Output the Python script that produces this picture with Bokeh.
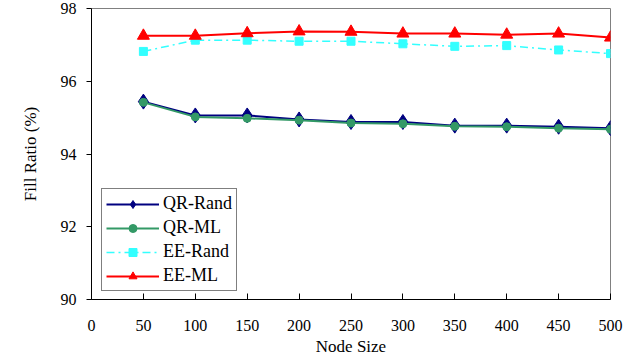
from bokeh.plotting import figure
from bokeh.models import Legend, LegendItem, FixedTicker
from bokeh.embed import file_html
from bokeh.resources import INLINE

node_size = [50, 100, 150, 200, 250, 300, 350, 400, 450, 500]
qr_rand = [95.44, 95.06, 95.06, 94.95, 94.88, 94.88, 94.78, 94.78, 94.75, 94.71]
qr_ml = [95.42, 95.02, 94.98, 94.93, 94.85, 94.83, 94.76, 94.75, 94.71, 94.68]
ee_rand = [96.82, 97.13, 97.13, 97.10, 97.10, 97.03, 96.96, 96.98, 96.86, 96.76]
ee_ml = [97.25, 97.25, 97.32, 97.37, 97.36, 97.31, 97.31, 97.28, 97.31, 97.20]
x_ticks = [0, 50, 100, 150, 200, 250, 300, 350, 400, 450, 500]
y_ticks = [90, 92, 94, 96, 98]

FONT = "Liberation Serif"

p = figure(width=639, height=362, output_backend="svg", toolbar_location=None,
           x_range=(0, 500), y_range=(90, 98),
           min_border_left=91, min_border_right=29, min_border_top=8, min_border_bottom=63)
p.background_fill_color = "white"
p.border_fill_color = "white"
p.grid.visible = False
p.outline_line_color = "#808080"
p.outline_line_width = 1

p.xaxis.ticker = FixedTicker(ticks=x_ticks)
p.yaxis.ticker = FixedTicker(ticks=y_ticks)
p.xaxis.minor_tick_line_color = None
p.yaxis.minor_tick_line_color = None
p.xaxis.major_tick_in = 6
p.xaxis.major_tick_out = 0
p.yaxis.major_tick_in = 0
p.yaxis.major_tick_out = 5
p.xaxis.major_label_standoff = 20
p.yaxis.major_label_standoff = 10
for ax in (p.xaxis, p.yaxis):
    ax.axis_line_color = "black"
    ax.major_tick_line_color = "black"
    ax.major_label_text_font = FONT
    ax.major_label_text_font_size = "16px"
    ax.major_label_text_color = "black"
    ax.axis_label_text_font = FONT
    ax.axis_label_text_font_size = "17px"
    ax.axis_label_text_font_style = "normal"
    ax.axis_label_text_color = "black"
p.xaxis.axis_label = "Node Size"
p.yaxis.axis_label = "Fill Ratio (%)"
p.xaxis.axis_label_standoff = 3
p.yaxis.axis_label_standoff = 18

r1l = p.line(node_size, qr_rand, line_color="#000080", line_width=2)
r1m = p.scatter(node_size, qr_rand, marker="diamond", size=15, fill_color="#000080", line_color="#000080")
r2l = p.line(node_size, qr_ml, line_color="#339966", line_width=2)
r2m = p.scatter(node_size, qr_ml, marker="circle", size=8, fill_color="#339966", line_color="#339966")
r3l = p.line(node_size, ee_rand, line_color="#33FFFF", line_width=1.5, line_dash="8 4 2 4")
r3m = p.scatter(node_size, ee_rand, marker="square", size=8, fill_color="#33FFFF", line_color="#33FFFF")
r4l = p.line(node_size, ee_ml, line_color="#FF0000", line_width=2)
r4m = p.scatter(node_size, ee_ml, marker="triangle", size=12, fill_color="#FF0000", line_color="#FF0000")

legend = Legend(items=[
    LegendItem(label="QR-Rand", renderers=[r1l, r1m]),
    LegendItem(label="QR-ML", renderers=[r2l, r2m]),
    LegendItem(label="EE-Rand", renderers=[r3l, r3m]),
    LegendItem(label="EE-ML", renderers=[r4l, r4m]),
], location=(10, 8))
legend.label_text_font = FONT
legend.label_text_font_size = "18px"
legend.label_text_color = "black"
legend.glyph_width = 53
legend.glyph_height = 20
legend.label_height = 20
legend.spacing = 3
legend.padding = 4
legend.margin = 0
legend.label_standoff = 4
legend.border_line_color = "black"
legend.border_line_width = 1
legend.background_fill_color = "white"
legend.background_fill_alpha = 1
p.add_layout(legend, "center")

open("out.html", "w").write(file_html(p, INLINE))
